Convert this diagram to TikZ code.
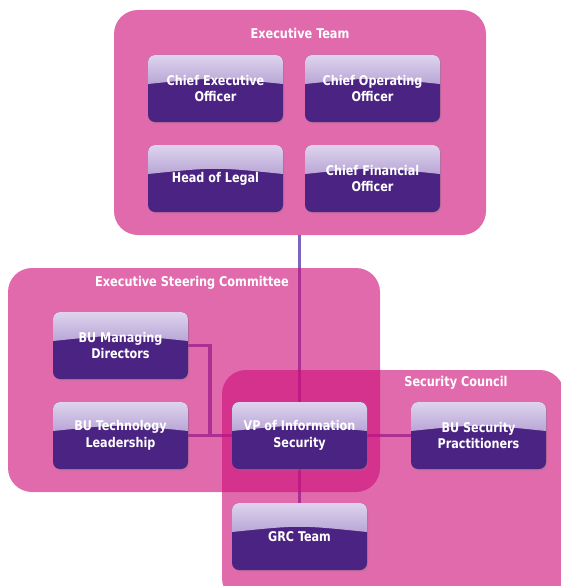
\documentclass[tikz,border=0pt]{standalone}
\usepackage{fontspec}
\setmainfont{Liberation Sans}
\newfontfamily\rolefont{DejaVu Sans Condensed}[FakeStretch=0.93]
\usetikzlibrary{shadows}
\pgfdeclarelayer{wires}
\pgfdeclarelayer{panels}
\pgfsetlayers{wires,panels,main}

\definecolor{panelpink}{RGB}{205,16,122}
\definecolor{wirecol}{RGB}{125,100,192}
\definecolor{rolefill}{RGB}{75,35,130}
\definecolor{glosstop}{RGB}{222,212,238}
\definecolor{glossbot}{RGB}{136,104,182}

\tikzset{
  panel/.style={fill=panelpink, fill opacity=0.624, rounded corners=24pt, inner sep=0pt},
  paneltitle/.style={text=white, font=\rolefont\bfseries\fontsize{13.5}{15}\selectfont, inner sep=0pt},
  wire/.style={draw=wirecol, line width=3.5pt},
  role/.style={
    rounded corners=7pt, fill=rolefill, text=white,
    minimum width=135pt, minimum height=67pt, inner sep=2pt, align=center,
    font=\rolefont\bfseries\fontsize{13.4}{16.5}\selectfont,
    drop shadow={shadow xshift=1.2pt, shadow yshift=-1.5pt, opacity=0.3},
    path picture={
      \shade[sharp corners, top color=glosstop, bottom color=glossbot]
        (path picture bounding box.north west) -- (path picture bounding box.north east)
        -- ([yshift=-29pt]path picture bounding box.north east)
        .. controls ([yshift=-22pt]path picture bounding box.north) ..
        ([yshift=-29pt]path picture bounding box.north west) -- cycle;
    }
  }
}

\begin{document}
\begin{tikzpicture}[x=1pt,y=-1pt]
\useasboundingbox (0,0) rectangle (561,586);
\clip (0,0) rectangle (561,586);

% role boxes
\node[role] (ceo)   at (215.5,88.5)  {Chief Executive\\Officer};
\node[role] (coo)   at (372.5,88.5)  {Chief Operating\\Officer};
\node[role] (legal) at (215.5,178.5) {Head of Legal};
\node[role] (cfo)   at (372.5,178.5) {Chief Financial\\Officer};
\node[role] (bmd)   at (120.5,345.5) {BU Managing\\Directors};
\node[role] (btl)   at (120.5,435.5) {BU Technology\\Leadership};
\node[role] (vp)    at (299.5,435.5) {VP of Information\\Security};
\node[role] (bsp)   at (478.5,435.5) {BU Security\\Practitioners};
\node[role] (grc)   at (299.5,536.5) {GRC Team};

% translucent group panels
\begin{pgfonlayer}{panels}
\node[panel, minimum width=372pt, minimum height=225pt] (exec)  at (300,122.5) {};
\node[panel, minimum width=372pt, minimum height=224pt] (steer) at (194,380) {};
\node[panel, minimum width=342pt, minimum height=232pt] (sec)   at (393,486) {};
\end{pgfonlayer}

\node[paneltitle] (exectitle)  at (300,33)  {Executive Team};
\node[paneltitle] (steertitle) at (192,283) {Executive Steering Committee};
\node[paneltitle] (sectitle)   at (456,383) {Security Council};

% reporting lines, beneath the panels
\coordinate (mdjoin) at (210,435.5);
\begin{pgfonlayer}{wires}
\draw[wire] (exec.south -| vp) -- (vp.center) -- (grc.center);
\draw[wire] (btl.center) -- (bsp.center);
\draw[wire] (bmd.east) -| (mdjoin);
\end{pgfonlayer}
\end{tikzpicture}
\end{document}
